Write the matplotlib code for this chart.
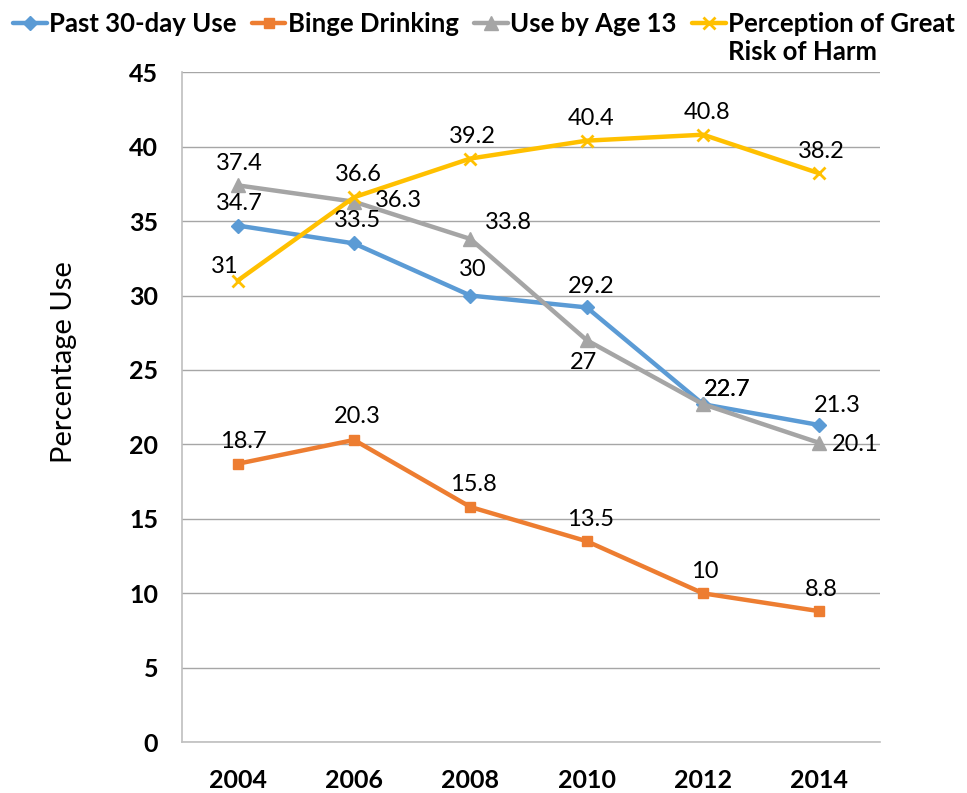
import matplotlib
matplotlib.use("Agg")
import matplotlib.pyplot as plt

years = ["2004", "2006", "2008", "2010", "2012", "2014"]
past_30day = [34.7, 33.5, 30, 29.2, 22.7, 21.3]
binge = [18.7, 20.3, 15.8, 13.5, 10, 8.8]
use_by_13 = [37.4, 36.3, 33.8, 27, 22.7, 20.1]
perception = [31, 36.6, 39.2, 40.4, 40.8, 38.2]

plt.rcParams['font.family'] = ['Lato', 'DejaVu Sans']

fig = plt.figure(figsize=(9.67, 7.93), dpi=100)
ax = fig.add_axes([0.188, 0.064, 0.722, 0.845])

x = list(range(len(years)))

# label offsets in pixels (dx, dy), screen up = positive
series = [
    ("Past 30-day Use", past_30day, "#5B9BD5", "D", 7,
     [(2, 22), (3, 23), (2, 26), (4, 21), (24, 15), (18, 20)]),
    ("Binge Drinking", binge, "#ED7D31", "s", 7,
     [(6, 22), (3, 23), (3, 22), (4, 22), (2, 22), (2, 22)]),
    ("Use by Age 13", use_by_13, "#A5A5A5", "^", 10,
     [(2, 22), (44, 1), (38, 16), (-3, -22), (24, 15), (36, -2)]),
    ("Perception of Great", perception, "#FFC000", "x", 9,
     [(-13, 14), (4, 23), (2, 22), (4, 22), (4, 22), (2, 22)]),
]

for name, vals, col, mk, ms, offs in series:
    ax.plot(x, vals, color=col, lw=3.2, marker=mk, markersize=ms,
            markeredgewidth=2 if mk == "x" else 1, markeredgecolor=col,
            label=name, solid_capstyle="round")

for name, vals, col, mk, ms, offs in series:
    for xi, v, (dx, dy) in zip(x, vals, offs):
        ax.annotate(f"{v:g}", (xi, v), xytext=(dx * 0.72, dy * 0.72),
                    textcoords="offset points", ha="center", va="center",
                    fontsize=17, color="black")

ax.set_xlim(-0.48, 5.52)
ax.set_ylim(0, 45)
ax.set_yticks(range(0, 50, 5))
ax.set_xticks(x)
ax.set_xticklabels(years)
ax.tick_params(length=0, labelsize=18)
for lab in ax.get_xticklabels() + ax.get_yticklabels():
    lab.set_fontweight("bold")
ax.tick_params(axis="x", pad=19)
ax.tick_params(axis="y", pad=17)

ax.grid(axis="y", color="#A6A6A6", lw=1)
ax.set_axisbelow(True)
for s in ["top", "right"]:
    ax.spines[s].set_visible(False)
for s in ["left", "bottom"]:
    ax.spines[s].set_color("#BFBFBF")
    ax.spines[s].set_linewidth(1.2)

ax.set_ylabel("Percentage Use", fontsize=21, va="center", ha="center")
ax.yaxis.set_label_coords(-0.169, 0.567)

leg = fig.legend(loc="upper left", bbox_to_anchor=(-0.005, 1.008), ncol=4,
                 frameon=False, handlelength=1.3, handletextpad=0.1,
                 columnspacing=0.6, borderaxespad=0.3,
                 prop={"weight": "bold", "size": 18.5})

# second line of the last legend label
fig.canvas.draw()
t4 = leg.get_texts()[3]
bb = t4.get_window_extent().transformed(fig.transFigure.inverted())
fig.text(bb.x0, bb.y0 - 0.006, "Risk of Harm", ha="left", va="top",
         fontsize=18.5, fontweight="bold")

fig.savefig("out.png", dpi=100)
